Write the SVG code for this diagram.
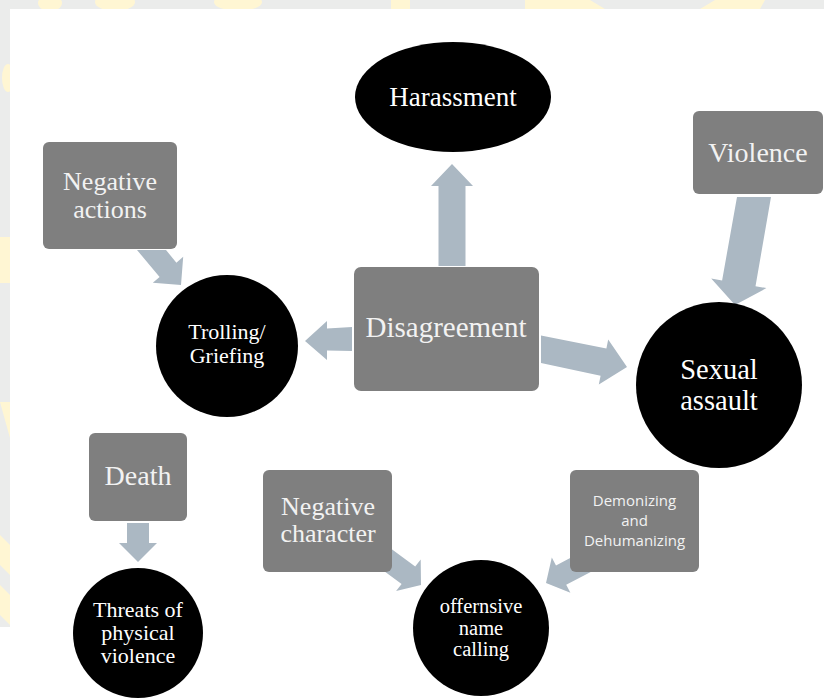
<svg xmlns="http://www.w3.org/2000/svg" width="824" height="698" viewBox="0 0 824 698">
  <style>
    .box { fill: #7f7f7f; }
    .circ { fill: #000000; }
    .arrow { fill: #abb8c3; }
    .wm { fill: #fff6d3; }
    .t { font-family: 'Liberation Serif', 'DejaVu Serif', 'Times New Roman', Times, serif; fill: #ffffff; text-anchor: middle; }
    .bt { font-family: 'Liberation Serif', 'DejaVu Serif', 'Times New Roman', Times, serif; fill: #f2f2f2; text-anchor: middle; }
    .st { font-family: 'Open Sans', 'Liberation Sans', sans-serif; fill: #f2f2f2; text-anchor: middle; }
  </style>

  <g id="background">
    <rect x="0" y="0" width="824" height="698" fill="#ebeceb"/>
    <ellipse class="wm" cx="50" cy="3" rx="12" ry="8"/>
    <ellipse class="wm" cx="115" cy="2" rx="20" ry="9"/>
    <ellipse class="wm" cx="238" cy="2" rx="24" ry="9"/>
    <rect class="wm" x="391" y="0" width="19" height="9"/>
    <path class="wm" d="M525 0 L590 0 L605 9 L525 9 Z"/>
    <path class="wm" d="M700 9 L715 0 L765 0 L760 9 Z"/>
    <ellipse class="wm" cx="8" cy="78" rx="6" ry="14"/>
    <rect class="wm" x="0" y="237" width="10" height="46"/>
    <path class="wm" d="M0 402 L10 402 L10 438 Z"/>
    <path class="wm" d="M0 535 L10 545 L10 575 L0 565 Z"/>
    <path class="wm" d="M0 585 L10 595 L10 625 L0 615 Z"/>
    <rect x="10" y="9" width="814" height="689" fill="#ffffff"/>
    <rect x="0" y="627" width="10" height="71" fill="#ffffff"/>
  </g>

  <g id="connectors">
    <polygon class="arrow" points="438.5,266 438.5,186 431,186 452,164 473,186 465.5,186 465.5,266"/>
    <polygon class="arrow" points="352,327 327,328.5 327,321 305,341 327,360 327,350.5 352,351"/>
    <polygon class="arrow" points="541,335.5 606.4,348.4 608.2,339.6 627,367 598.8,384.6 600.6,375.8 541,363"/>
    <polygon class="arrow" points="771,197 755.5,286.2 766.4,288.1 735,305 711.2,278.5 722.1,280.4 737,197"/>
    <polygon class="arrow" points="137,250 159.6,277 152.8,282.8 181,285 183.2,256.8 176.4,262.7 166,250"/>
    <polygon class="arrow" points="127,523 127,543 119,543 138,562 157,543 149,543 149,523"/>
    <polygon class="arrow" points="378.2,566.7 401.6,583.9 396.1,591 421,585 420.7,559.4 415.2,566.5 391.8,549.3"/>
    <polygon class="arrow" points="582.9,551.3 556,565.4 551.8,557.4 546,583 570.4,592.8 566.2,584.8 593.1,570.7"/>
  </g>

  <g id="harassment">
    <ellipse class="circ" cx="453" cy="97" rx="98" ry="55"/>
    <text class="t" x="453" y="106" font-size="27">Harassment</text>
  </g>

  <g id="violence">
    <rect class="box" x="693" y="111" width="130" height="83" rx="6"/>
    <text class="bt" x="758" y="162" font-size="28">Violence</text>
  </g>

  <g id="negative-actions">
    <rect class="box" x="43" y="142" width="134" height="107" rx="6"/>
    <text class="bt" x="110" y="190" font-size="26">Negative</text>
    <text class="bt" x="110" y="218" font-size="26">actions</text>
  </g>

  <g id="disagreement">
    <rect class="box" x="354" y="267" width="185" height="124" rx="7"/>
    <text class="bt" x="446" y="337" font-size="29">Disagreement</text>
  </g>

  <g id="trolling">
    <circle class="circ" cx="227" cy="346" r="71"/>
    <text class="t" x="227" y="339" font-size="22">Trolling/</text>
    <text class="t" x="227" y="363" font-size="22">Griefing</text>
  </g>

  <g id="sexual-assault">
    <circle class="circ" cx="719" cy="385" r="83"/>
    <text class="t" x="719" y="379" font-size="28.5">Sexual</text>
    <text class="t" x="719" y="410" font-size="28.5">assault</text>
  </g>

  <g id="death">
    <rect class="box" x="89" y="433" width="98" height="88" rx="6"/>
    <text class="bt" x="138" y="485" font-size="28">Death</text>
  </g>

  <g id="negative-character">
    <rect class="box" x="263" y="470" width="129" height="102" rx="6"/>
    <text class="bt" x="328" y="515" font-size="26">Negative</text>
    <text class="bt" x="328" y="542" font-size="26">character</text>
  </g>

  <g id="demonizing">
    <rect class="box" x="570" y="470" width="129" height="102" rx="6"/>
    <text class="st" x="634.5" y="506" font-size="15">Demonizing</text>
    <text class="st" x="634.5" y="526" font-size="15">and</text>
    <text class="st" x="634.5" y="546" font-size="15">Dehumanizing</text>
  </g>

  <g id="threats">
    <circle class="circ" cx="138" cy="633" r="65"/>
    <text class="t" x="138" y="617" font-size="22">Threats of</text>
    <text class="t" x="138" y="640" font-size="22">physical</text>
    <text class="t" x="138" y="663" font-size="22">violence</text>
  </g>

  <g id="offensive">
    <circle class="circ" cx="481" cy="628" r="68"/>
    <text class="t" x="481" y="613" font-size="20.5">offernsive</text>
    <text class="t" x="481" y="635" font-size="20.5">name</text>
    <text class="t" x="481" y="656" font-size="20.5">calling</text>
  </g>
</svg>
